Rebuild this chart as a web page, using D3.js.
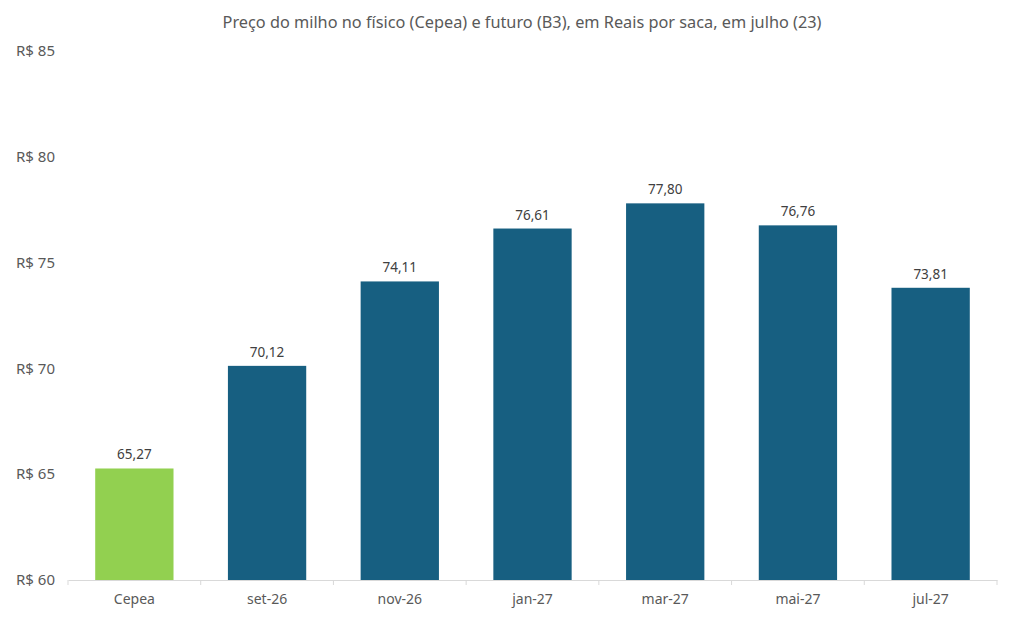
<!DOCTYPE html>
<html>
<head>
<meta charset="utf-8">
<script src="https://cdn.jsdelivr.net/npm/d3@7"></script>
<style>
  body { margin: 0; background: #fff; }
  text { font-family: "Noto Sans", "Open Sans", sans-serif; }
</style>
</head>
<body>
<script>
// preço do milho, físico x futuro
const categories = ['Cepea', 'set-26', 'nov-26', 'jan-27', 'mar-27', 'mai-27', 'jul-27']
const prices = [65.27, 70.12, 74.11, 76.61, 77.80, 76.76, 73.81]
const yTicks = [60, 65, 70, 75, 80, 85]
const title = 'Preço do milho no físico (Cepea) e futuro (B3), em Reais por saca, em julho (23)'

const width = 1011
const height = 630
const margin = { top: 51, right: 14, bottom: 50, left: 68 }

const svg = d3.select('body').append('svg')
  .attr('width', width)
  .attr('height', height)

const x = d3.scaleBand()
  .domain(categories)
  .range([margin.left, width - margin.right])
  .paddingInner(0.41)
  .paddingOuter(0.205)

const y = d3.scaleLinear()
  .domain([60, 85])
  .range([height - margin.bottom, margin.top])

const fmt = (v) => v.toFixed(2).replace('.', ',')

svg.append('text')
  .attr('x', 522)
  .attr('y', 28)
  .attr('text-anchor', 'middle')
  .attr('font-size', 16.3)
  .attr('fill', '#595959')
  .text(title)

// eixo y, só os rótulos
svg.append('g').selectAll('text')
  .data(yTicks)
  .enter()
  .append('text')
  .attr('x', 16)
  .attr('y', (d) => y(d))
  .attr('dy', '0.35em')
  .attr('font-size', 15)
  .attr('fill', '#595959')
  .text((d) => 'R$ ' + d)

// barras
svg.append('g').selectAll('rect')
  .data(categories)
  .enter()
  .append('rect')
  .attr('x', (d) => x(d))
  .attr('y', (d, i) => y(prices[i]))
  .attr('width', x.bandwidth())
  .attr('height', (d, i) => y(60) - y(prices[i]))
  .attr('fill', (d, i) => i === 0 ? '#92d050' : '#175f81')

svg.append('g').selectAll('text')
  .data(categories)
  .enter()
  .append('text')
  .attr('x', (d) => x(d) + x.bandwidth() / 2)
  .attr('y', (d, i) => y(prices[i]) - 9)
  .attr('text-anchor', 'middle')
  .attr('font-size', 13.5)
  .attr('fill', '#404040')
  .text((d, i) => fmt(prices[i]))

// eixo x
const xAxis = d3.axisBottom(x).tickSize(0).tickPadding(14)
const gx = svg.append('g')
  .attr('transform', `translate(0,${y(60)})`)
  .call(xAxis)
gx.select('.domain').attr('stroke', '#d9d9d9')
gx.selectAll('text')
  .attr('font-size', 14)
  .attr('fill', '#595959')
  .style('font-family', '"Noto Sans", sans-serif')

const step = x.step()
const bounds = d3.range(categories.length + 1).map((i) => margin.left + i * step)
gx.selectAll('.sep')
  .data(bounds)
  .enter()
  .append('line')
  .attr('class', 'sep')
  .attr('x1', (d) => d)
  .attr('x2', (d) => d)
  .attr('y1', 0)
  .attr('y2', 5)
  .attr('stroke', '#d9d9d9')
</script>
</body>
</html>
